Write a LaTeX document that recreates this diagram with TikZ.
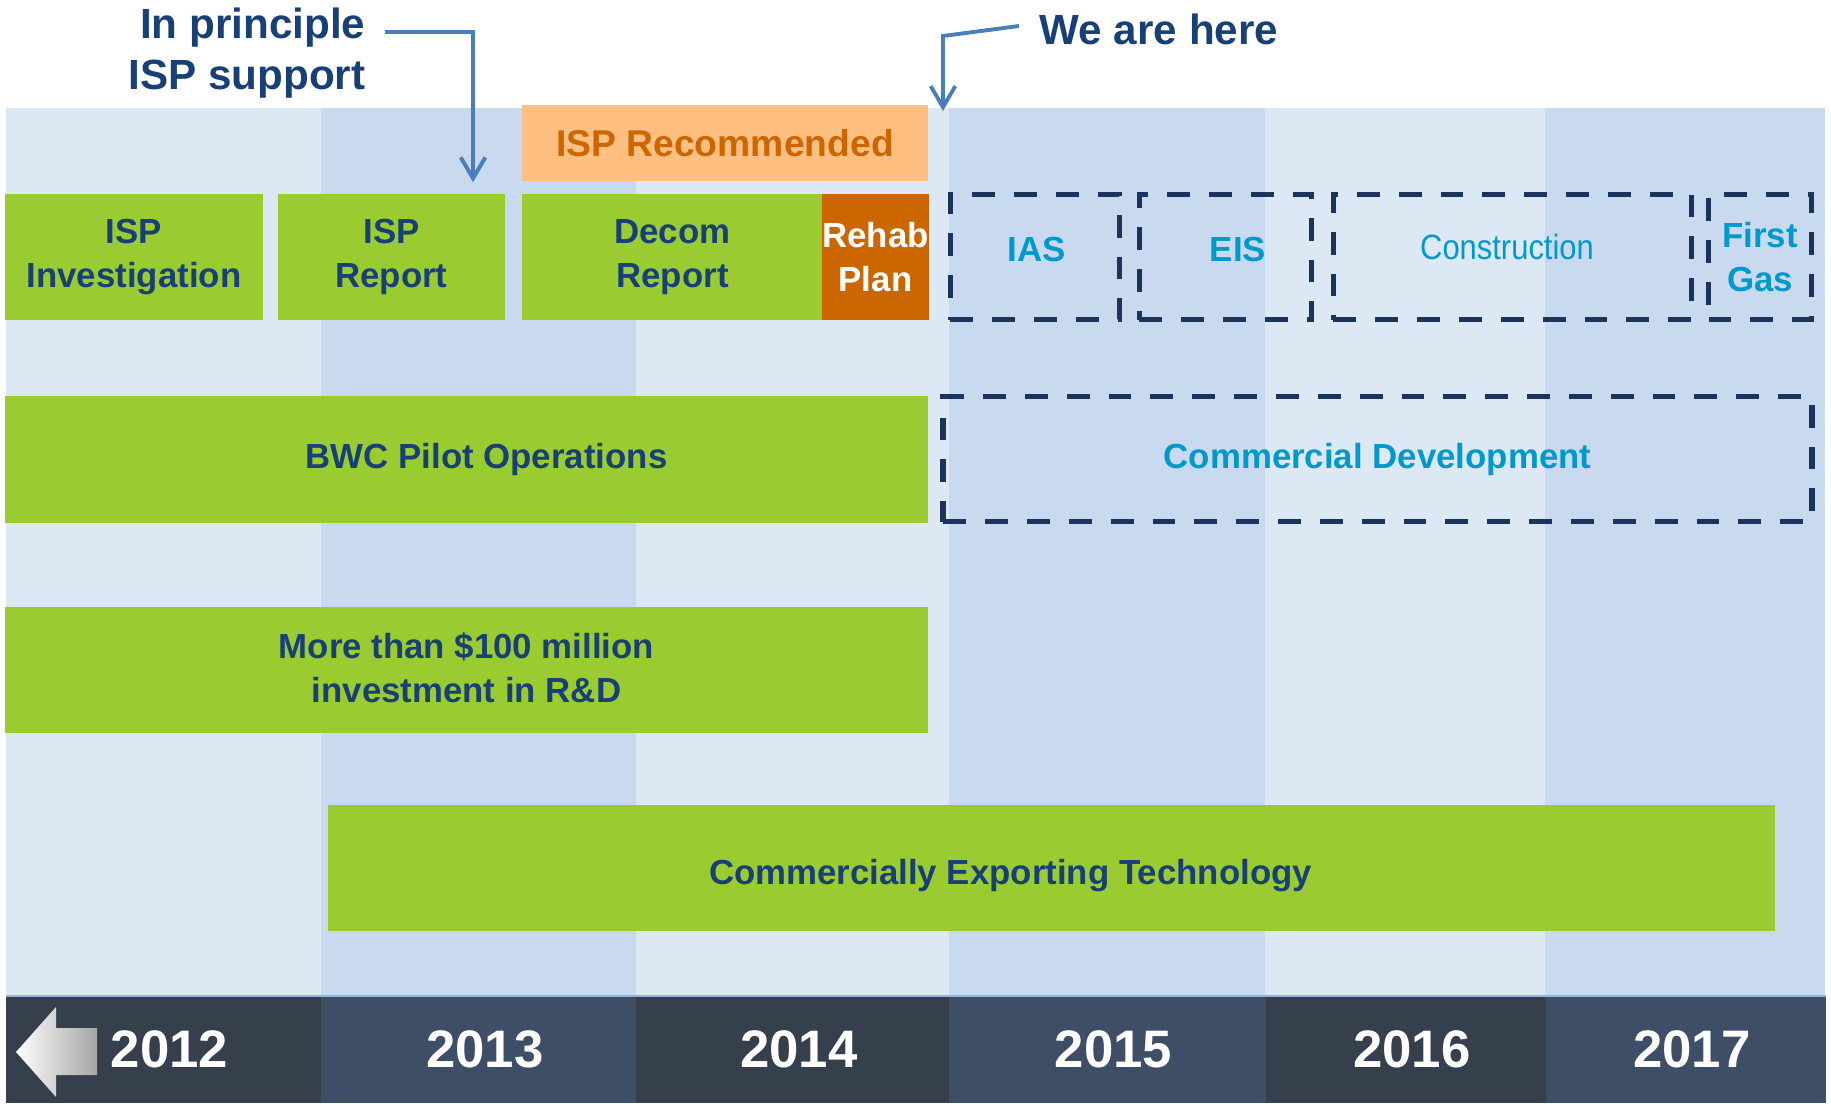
\documentclass[tikz,border=0pt]{standalone}
\usepackage{fontspec}
\setmainfont{Liberation Sans}
\newfontfamily\narrowfont[FakeStretch=0.88]{Liberation Sans}
\usetikzlibrary{arrows.meta}
\usetikzlibrary{positioning}

\definecolor{bandlight}{RGB}{221,232,245}
\definecolor{banddark}{RGB}{201,218,240}
\definecolor{yeardark}{RGB}{54,63,76}
\definecolor{yearblue}{RGB}{62,78,103}
\definecolor{phasegreen}{RGB}{154,204,50}
\definecolor{textnavy}{RGB}{24,64,118}
\definecolor{planline}{RGB}{26,52,92}
\definecolor{plantext}{RGB}{0,153,204}
\definecolor{recfill}{RGB}{255,191,128}
\definecolor{rehabfill}{RGB}{204,102,0}
\definecolor{arrowblue}{RGB}{74,126,187}

\newcommand{\phasefont}{\fontsize{9.9}{12.4}\selectfont\bfseries}
\newcommand{\calloutfont}{\fontsize{12}{14.5}\selectfont\bfseries}
\newcommand{\yearlabelfont}{\fontsize{15}{18}\selectfont\bfseries}

\tikzset{phase/.style={fill=phasegreen, text=textnavy, font=\phasefont, align=center, inner sep=0pt, minimum height=1.26cm}}
\tikzset{phasetag/.style={text=textnavy, font=\phasefont, align=center, inner sep=0pt}}
\tikzset{planned/.style={draw=planline, line width=1.6pt, dash pattern=on 6.5pt off 5.4pt, text=plantext, font=\phasefont, align=center, inner sep=0pt, minimum height=1.25cm}}
\tikzset{plantag/.style={text=plantext, font=\phasefont, align=center, inner sep=0pt}}
\tikzset{yearcell/.style={inner sep=0pt, outer sep=0pt, minimum height=1.07cm, text=white, font=\yearlabelfont, execute at begin node=\hspace{0.12cm}}}
\tikzset{callout/.style={text=textnavy, font=\calloutfont, inner sep=0pt}}
\tikzset{pointer/.style={draw=arrowblue, line width=1.1pt, -{Straight Barb[length=6pt,width=7pt]}}}

\begin{document}
\begin{tikzpicture}[x=0.01cm,y=-0.01cm]
\useasboundingbox (0,0) rectangle (1831,1103);

% year columns
\fill[bandlight] (6,108) rectangle (1825,996);
\fill[banddark] (321,108) rectangle (636,996);
\fill[banddark] (949,108) rectangle (1265,996);
\fill[banddark] (1545,108) rectangle (1825,996);

% time line
\node[yearcell, fill=yeardark, minimum width=3.15cm] (y2012) at (163.5,1049.5) {2012};
\node[yearcell, fill=yearblue, minimum width=3.15cm, right=0pt of y2012] (y2013) {2013};
\node[yearcell, fill=yeardark, minimum width=3.13cm, right=0pt of y2013] (y2014) {2014};
\node[yearcell, fill=yearblue, minimum width=3.16cm, right=0pt of y2014] (y2015) {2015};
\node[yearcell, fill=yeardark, minimum width=2.80cm, right=0pt of y2015] (y2016) {2016};
\node[yearcell, fill=yearblue, minimum width=2.80cm, right=0pt of y2016] (y2017) {2017};
\draw[line width=0.8pt, color=arrowblue!60!white] (y2012.north west) -- (y2017.north east);
\shade[left color=white, right color=gray!70] (16,1052) -- (56,1007) -- (56,1028) -- (97,1028) -- (97,1075) -- (56,1075) -- (56,1097) -- cycle;

% first row
\node[phase, minimum width=2.58cm] (invest) at (134,257) {ISP\\Investigation};
\node[phase, minimum width=2.27cm] (ispreport) at (391.5,257) {ISP\\Report};
\node[phase, minimum width=3.01cm] (decom) at (672.5,257) {Decom\\Report};
\node[phase, fill=rehabfill, text=white, minimum width=1.05cm] (rehab) at (875.5,257) {Rehab\\Plan};
\node[phase, fill=recfill, text=rehabfill, font=\fontsize{10.6}{12}\selectfont\bfseries, minimum width=4.06cm, minimum height=0.76cm] (recommended) at (725,143) {ISP Recommended};
\node[planned, minimum width=1.69cm] (ias) at (1035,257) {};
\node[plantag] (iaslabel) at (1037,250) {IAS};
\node[planned, minimum width=1.72cm] (eis) at (1225.5,257) {};
\node[plantag] (eislabel) at (1238,250) {EIS};
\node[planned, minimum width=3.58cm] (construction) at (1512.5,257) {};
\node[plantag, font=\fontsize{10}{12}\narrowfont] (constructionlabel) at (1507,247) {Construction};
\node[planned, minimum width=1.03cm] (firstgas) at (1760,257) {First\\Gas};

% other rows
\node[phase, minimum width=9.23cm, minimum height=1.27cm] (pilot) at (466.5,459.5) {};
\node[phasetag] (pilotlabel) at ([xshift=0.2cm]pilot.center) {BWC Pilot Operations};
\node[planned, minimum width=8.68cm] (commercial) at (1377.5,459) {Commercial Development};
\node[phase, minimum width=9.23cm] (research) at (466.5,670) {};
\node[phasetag] (researchlabel) at ([yshift=0.02cm]research.center) {More than \$100 million\\investment in R\&D};
\node[phase, minimum width=14.47cm] (exporting) at (1051.5,868) {};
\node[phasetag] (exportlabel) at ([xshift=-0.41cm, yshift=-0.08cm]exporting.center) {Commercially Exporting Technology};

% call outs
\node[callout, anchor=east, align=right] (support) at (366,53) {In principle\\ISP support};
\coordinate (supportstart) at (385,32);
\path[pointer] (supportstart) -| ([xshift=0.815cm, yshift=0.11cm]ispreport.north);
\node[callout, anchor=west] (herelabel) at (1039,29) {We are here};
\coordinate (herestart) at (1019,26);
\coordinate (nowmark) at (943,111);
\path[pointer] (herestart) -- ++(-76,10) -- (nowmark);
\end{tikzpicture}
\end{document}
